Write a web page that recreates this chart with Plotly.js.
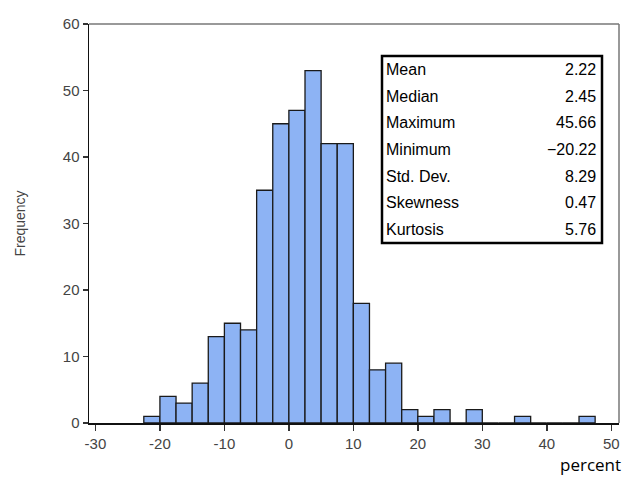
<!DOCTYPE html>
<html>
<head>
<meta charset="utf-8">
<script src="https://cdn.plot.ly/plotly-3.0.1.min.js"></script>
<style>html,body{margin:0;padding:0;background:#fff;}#chart{width:625px;height:479px;}</style>
</head>
<body>
<div id="chart"></div>
<script>
// Histogram bins (bin start, width 2.5) and frequencies
const binStarts = [-22.5,-20,-17.5,-15,-12.5,-10,-7.5,-5,-2.5,0,2.5,5,7.5,10,12.5,15,17.5,20,22.5,25,27.5,30,32.5,35,37.5,40,42.5,45];
const frequencies = [1,4,3,6,13,15,14,35,45,47,53,42,42,18,8,9,2,1,2,0,2,0,0,1,0,0,0,1];
const binWidth = 2.5;

const statLabels = ["Mean","Median","Maximum","Minimum","Std. Dev.","Skewness","Kurtosis"];
const statValues = ["2.22","2.45","45.66","\u221220.22","8.29","0.47","5.76"];

const yTicks = [0,10,20,30,40,50,60];
const xTicks = [-30,-20,-10,0,10,20,30,40,50];

const centers = binStarts.map(b => b + binWidth/2);

const trace = {
  type: 'bar',
  x: centers,
  y: frequencies,
  width: binWidth,
  marker: {color: '#8db3f4', line: {color: '#1a1a1a', width: 1.3}},
  hoverinfo: 'skip'
};

// Layout geometry in pixels
const W = 625, H = 479;
const ml = 89, mr = 6, mt = 24, mb = 56;
const pw = W - ml - mr, ph = H - mt - mb;
const px = v => (v - ml) / pw;
const py = v => (H - mb - v) / ph;

const boxL = 382, boxR = 602, boxT = 56, boxB = 243;
const rowH = (boxB - boxT) / statLabels.length;
const boxFont = {family:'Liberation Sans Narrow, Arial Narrow, Liberation Sans, sans-serif', size:16, color:'#000'};

const annotations = [];
statLabels.forEach((lab, i) => {
  const yc = py(boxT + rowH * (i + 0.5));
  annotations.push({xref:'paper', yref:'paper', x: px(boxL + 2), y: yc, xanchor:'left', yanchor:'middle',
    text: lab, showarrow:false, font: boxFont});
  annotations.push({xref:'paper', yref:'paper', x: px(boxR - 4), y: yc, xanchor:'right', yanchor:'middle',
    text: statValues[i], showarrow:false, font: boxFont});
});
annotations.push({xref:'paper', yref:'paper', x: px(590), y: py(465), xanchor:'center', yanchor:'middle',
  text:'percent', showarrow:false, font:{family:'Open Sans, Liberation Sans, sans-serif', size:17, color:'#000'}});

const layout = {
  width: W, height: H,
  margin: {l: ml, r: mr, t: mt, b: mb, pad: 0},
  paper_bgcolor: '#fff', plot_bgcolor: '#fff',
  showlegend: false,
  bargap: 0,
  xaxis: {
    range: [-31.0, 51.2], tickvals: xTicks, ticktext: xTicks.map(String),
    showgrid: false, zeroline: false, showline: true, linecolor: '#111', linewidth: 1.5,
    ticks: 'outside', ticklen: 6, tickcolor: '#333', tickwidth: 1.5,
    tickfont: {family: 'Liberation Sans, Arial, sans-serif', size: 15, color: '#444'}
  },
  yaxis: {
    range: [0, 60], tickvals: yTicks, ticktext: yTicks.map(String),
    showgrid: false, zeroline: false, showline: true, linecolor: '#111', linewidth: 1.5,
    ticks: 'outside', ticklen: 5, tickcolor: '#333', tickwidth: 1.5,
    tickfont: {family: 'Liberation Sans, Arial, sans-serif', size: 15, color: '#444'},
    title: {text: 'Frequency', standoff: 34, font: {family: 'Liberation Sans, Arial, sans-serif', size: 14, color: '#444'}}
  },
  shapes: [
    {type:'line', xref:'paper', yref:'paper', x0:0, x1:1, y0:1, y1:1, line:{color:'#777', width:1.5}},
    {type:'line', xref:'paper', yref:'paper', x0:1, x1:1, y0:0, y1:1, line:{color:'#777', width:1.5}},
    {type:'rect', xref:'paper', yref:'paper', x0:px(boxL), x1:px(boxR), y0:py(boxB), y1:py(boxT),
     fillcolor:'#fff', line:{color:'#000', width:2.5}}
  ],
  annotations: annotations
};

Plotly.newPlot('chart', [trace], layout, {displayModeBar: false, staticPlot: true});
</script>
</body>
</html>
